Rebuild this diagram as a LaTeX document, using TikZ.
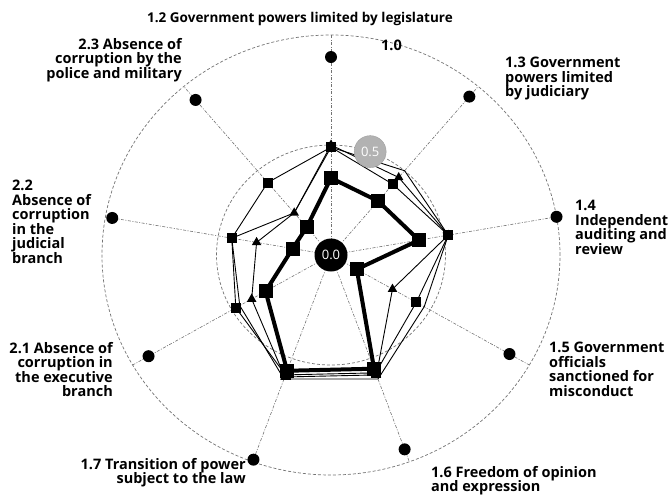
\documentclass[tikz,border=0pt]{standalone}
\usepackage{fontspec}
\setmainfont{Open Sans}
\usetikzlibrary{shapes.geometric}

\newcommand\lblfont{\bfseries\fontsize{14.5}{14.5}\selectfont}

\tikzset{
  lbl/.style={font=\lblfont, inner sep=0pt},
  axisline/.style={black!55, line width=0.6pt, dash pattern=on 3pt off 1.5pt on 1pt off 1.5pt},
  ring/.style={black!55, line width=0.7pt, dash pattern=on 3pt off 2pt},
  thinline/.style={line width=0.9pt, line join=round},
  thickline/.style={line width=4pt, line join=round},
  dotmark/.style={circle, fill=black, minimum size=12pt, inner sep=0pt},
  bigsq/.style={rectangle, fill=black, minimum size=14pt, inner sep=0pt},
  sqmark/.style={rectangle, fill=black, minimum size=10pt, inner sep=0pt},
  trimark/.style={regular polygon, regular polygon sides=3, fill=black, minimum size=11pt, inner sep=0pt},
  zerobadge/.style={circle, fill=black, text=white, minimum size=33pt, inner sep=0pt, font=\fontsize{13}{13}\selectfont},
  halfbadge/.style={circle, fill=gray!60, draw=gray!75, text=white, minimum size=32pt, inner sep=0pt, font=\fontsize{13}{13}\selectfont},
}

\begin{document}
\begin{tikzpicture}[x=1pt,y=1pt]
\useasboundingbox (-331,-244) rectangle (337,255);

\begin{scope}[x=229pt,y=220pt]
  \coordinate (o) at (0,0);
  % axes and rings
  \foreach \a [count=\i] in {90,50,10,-30,-70,-110,-150,170,130} {
    \coordinate (ax\i) at (\a:1);
    \draw[axisline] (o) -- (ax\i);
  }
  \draw[ring] (o) circle [radius=1];
  \draw[ring] (o) circle [radius=0.5];

  % angle / thick / squares / triangles / plain / dots
  \foreach \a/\rb/\rs/\rt/\rp/\rd [count=\i] in {
      90/0.35/0.49/0.50/0.49/0.90,
      50/0.32/0.42/0.46/0.50/0.94,
      10/0.39/0.52/0.52/0.52/1.00,
     -30/0.13/0.43/0.31/0.47/0.90,
     -70/0.55/0.57/0.58/0.60/0.94,
    -110/0.56/0.58/0.59/0.60/0.99,
    -150/0.33/0.48/0.40/0.46/0.92,
     170/0.17/0.44/0.33/0.44/0.97,
     130/0.165/0.43/0.25/0.25/0.92} {
    \coordinate (b\i) at (\a:\rb);
    \coordinate (s\i) at (\a:\rs);
    \coordinate (t\i) at (\a:\rt);
    \coordinate (p\i) at (\a:\rp);
    \coordinate (d\i) at (\a:\rd);
  }

  \draw[thinline] (p1) \foreach \i in {2,...,9} {-- (p\i)} -- cycle;
  \draw[thinline] (t1) \foreach \i in {2,...,9} {-- (t\i)} -- cycle;
  \draw[thinline] (s1) \foreach \i in {2,...,9} {-- (s\i)} -- cycle;
  \draw[thickline] (b1) \foreach \i in {2,...,9} {-- (b\i)} -- cycle;

  \foreach \i in {1,...,9} {
    \node[sqmark] (ms\i) at (s\i) {};
    \node[trimark] (mt\i) at (t\i) {};
    \node[bigsq] (mb\i) at (b\i) {};
    \node[dotmark] (md\i) at (d\i) {};
  }

  \node[zerobadge] (zero) at (o) {0.0};
  \node[halfbadge] (half) at (70:0.5) {0.5};
\end{scope}

% labels
\node[lbl, font=\bfseries\fontsize{13.5}{14}\selectfont] (l12) at (-31,236) {1.2 Government powers limited by legislature};
\node[lbl, anchor=west] (l10) at (50,210) {1.0};
\node[lbl, anchor=east, align=right] (l23) at (-149,195) {2.3 Absence of\\corruption by the\\police and military};
\node[lbl, anchor=north west, align=left] (l13) at (174,198) {1.3 Government\\powers limited\\by judiciary};
\node[lbl, anchor=north west, align=left] (l14) at (244,55) {1.4\\Independent\\auditing and\\review};
\node[lbl, anchor=north west, align=left] (l15) at (218,-87) {1.5 Government\\officials\\sanctioned for\\misconduct};
\node[lbl, anchor=north west, align=left] (l16) at (100,-211) {1.6 Freedom of opinion\\and expression};
\node[lbl, anchor=north east, align=right] (l17) at (-85,-203) {1.7 Transition of power\\subject to the law};
\node[lbl, anchor=north east, align=right] (l21) at (-218,-87) {2.1 Absence of\\corruption in\\the executive\\branch};
\node[lbl, anchor=north west, align=left] (l22) at (-319,75) {2.2\\Absence of\\corruption\\in the\\judicial\\branch};
\end{tikzpicture}
\end{document}
